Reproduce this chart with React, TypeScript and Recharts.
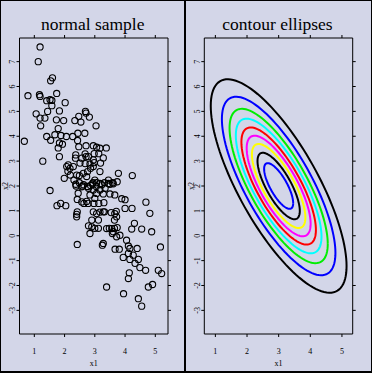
import React from 'react';
import { ScatterChart, Scatter, XAxis, YAxis } from 'recharts';

// ---- data ----
const sampleX = [
  1.19, 1.13, 1.60, 1.54, 1.74, 0.79, 1.17, 1.19, 1.41, 1.52, 1.58, 1.58, 2.02, 1.06, 1.19, 1.35, 1.44, 1.83, 1.73, 1.97,
  1.21, 2.69, 2.71, 2.47, 2.82, 2.54, 2.34, 3.04, 1.79, 1.41, 1.54, 1.68, 1.88, 2.06, 2.27, 2.44, 2.67, 2.43, 1.83, 1.93,
  1.79, 0.67, 2.47, 2.71, 2.95, 3.06, 3.17, 3.38, 1.83, 2.68, 2.71, 2.98, 3.13, 2.36, 2.51, 2.68, 2.84, 2.98, 3.19, 3.28,
  1.28, 2.07, 2.18, 2.11, 2.37, 2.76, 2.86, 2.95, 3.17, 3.78, 3.74, 4.24, 1.99, 2.19, 2.31, 2.49, 2.49, 2.94, 3.06, 3.17,
  3.32, 3.45, 3.59, 2.38, 2.60, 2.76, 2.86, 1.52, 1.75, 1.87, 2.04, 2.37, 2.63, 2.92, 3.05, 3.23, 3.50, 3.61, 2.84, 3.06,
  3.28, 3.50, 3.66, 2.42, 2.64, 2.78, 2.97, 3.13, 3.30, 3.89, 4.00, 2.42, 2.40, 2.95, 3.06, 3.17, 3.32, 3.54, 3.66, 3.71,
  4.00, 4.23, 4.69, 4.82, 2.40, 2.90, 3.12, 2.79, 2.90, 3.00, 3.12, 3.65, 3.72, 3.48, 3.65, 3.74, 4.31, 4.22, 4.55, 4.88,
  2.84, 3.58, 3.72, 3.83, 2.42, 3.25, 3.67, 3.81, 4.05, 4.11, 4.16, 4.40, 3.94, 4.11, 4.27, 4.16, 4.44, 4.33, 4.49, 4.68,
  4.14, 4.11, 5.10, 5.21, 5.17, 4.77, 4.91, 3.39, 3.95, 4.44, 4.55, 2.57, 2.79, 2.95, 2.12, 2.29, 2.73, 3.00, 3.45, 2.57,
  2.79, 2.95, 3.17, 3.34, 2.45, 3.00, 2.57, 2.73, 3.28, 3.61, 3.39, 3.28, 3.56, 2.62, 2.40,
];
const sampleY = [
  7.59, 7.00, 6.35, 6.23, 5.72, 5.63, 5.67, 5.60, 5.43, 5.47, 5.44, 5.23, 5.35, 4.90, 4.73, 4.73, 5.00, 5.02, 4.66, 4.63,
  4.42, 5.00, 4.93, 4.80, 4.77, 4.57, 4.63, 4.42, 4.31, 3.99, 3.84, 4.06, 4.03, 3.99, 3.99, 4.12, 4.12, 3.83, 3.73, 3.68,
  3.53, 3.80, 3.58, 3.62, 3.62, 3.56, 3.52, 3.53, 3.18, 3.29, 3.18, 3.30, 3.30, 3.12, 2.92, 2.90, 2.88, 2.94, 2.92, 3.13,
  3.00, 2.78, 2.71, 2.59, 3.25, 2.58, 2.71, 2.78, 2.58, 2.51, 2.17, 2.42, 2.31, 2.44, 2.24, 2.42, 2.13, 2.13, 2.13, 2.10,
  2.13, 2.10, 2.13, 2.00, 2.00, 1.98, 2.02, 1.82, 1.21, 1.30, 1.21, 2.07, 2.05, 2.08, 1.98, 2.05, 2.07, 2.09, 1.64, 1.70,
  1.68, 1.68, 1.64, 1.46, 1.30, 1.30, 1.30, 1.30, 1.33, 1.49, 1.45, 0.96, 0.86, 0.96, 0.89, 0.95, 0.96, 0.93, 0.89, 0.98,
  1.10, 1.10, 1.35, 0.90, 0.76, 0.63, 0.63, 0.40, 0.36, 0.30, 0.30, 0.63, 0.76, 0.30, 0.30, 0.33, 0.50, 0.27, 0.27, 0.16,
  0.09, 0.09, -0.04, 0.02, -0.35, -0.38, -0.54, -0.54, -0.18, -0.41, -0.51, -0.51, -0.87, -0.71, -0.78, -0.95, -0.95, -1.11, -1.28, -1.39,
  -1.49, -1.72, -1.39, -1.52, -0.45, -2.06, -1.96, -2.06, -2.33, -2.53, -2.83, 3.12, 3.18, 3.05, 2.85, 2.78, 2.38, 2.24, 2.24, 1.97,
  1.91, 1.84, 1.84, 1.91, 1.71, 1.50, 1.36, 1.38, 0.96, 0.16, 0.29, -0.31, 0.29, 2.51, 2.44,
];

const xTicks = [1, 2, 3, 4, 5];
const yTicks = [-3, -2, -1, 0, 1, 2, 3, 4, 5, 6, 7];

// contour ellipses of the bivariate normal: mean, sd, correlation, probability levels
const contourMean = [3, 2];
const contourSd = [1, 2];
const contourRho = -0.75;
const contourLevels = [0.9, 0.8, 0.7, 0.6, 0.5, 0.4, 0.3, 0.2, 0.1];
const contourColors = ['#000000', '#0000ff', '#00ee00', '#00ffff', '#ff0000', '#ff00ff', '#ffff00', '#000000', '#0000ff'];

const samplePoints = sampleX.map((x, i) => ({ x, y: sampleY[i] }));

function ellipsePoints(p: number) {
  const s = Math.sqrt(-2 * Math.log(1 - p));
  const k = Math.sqrt(1 - contourRho * contourRho);
  const pts: { x: number; y: number }[] = [];
  for (let d = 0; d <= 360; d += 3) {
    const t = (d * Math.PI) / 180;
    const c = Math.cos(t);
    const sn = Math.sin(t);
    pts.push({
      x: contourMean[0] + s * contourSd[0] * c,
      y: contourMean[1] + s * contourSd[1] * (contourRho * c + k * sn),
    });
  }
  return pts;
}

const BG = '#d3d6e8';
const FONT = '"Liberation Serif", "Times New Roman", serif';
const W = 186;
const H = 373;

const EmptyTick = () => <g />;

const RotTick = (props: any) => {
  const { x, y, payload } = props;
  const cx = x - 2;
  return (
    <text
      x={cx}
      y={y}
      transform={`rotate(-90 ${cx} ${y})`}
      textAnchor="middle"
      dominantBaseline="central"
      fontSize={8}
      fontFamily={FONT}
      fill="#000"
    >
      {payload.value}
    </text>
  );
};

type PanelProps = {
  title: string;
  left: number;
  plotLeft: number;
  plotRight: number;
  xDomain: [number, number];
  children: React.ReactNode;
};

function Panel({ title, left, plotLeft, plotRight, xDomain, children }: PanelProps) {
  const cx = (plotLeft + (W - plotRight)) / 2;
  return (
    <div style={{ position: 'absolute', left, top: 0, width: W, height: H }}>
      <ScatterChart width={W} height={H} margin={{ top: 0, right: 0, bottom: 0, left: 0 }}>
        <XAxis
          xAxisId="b"
          type="number"
          dataKey="x"
          orientation="bottom"
          domain={xDomain}
          ticks={xTicks}
          allowDataOverflow
          height={39}
          tickSize={3}
          tickMargin={11}
          stroke="#000"
          tick={{ fontSize: 8, fill: '#000', fontFamily: FONT }}
          label={() => (
            <text x={cx} y={366} textAnchor="middle" fontSize={8} fontFamily={FONT} fill="#000">
              x1
            </text>
          )}
        />
        <XAxis
          xAxisId="t"
          type="number"
          dataKey="x"
          orientation="top"
          domain={xDomain}
          ticks={xTicks}
          allowDataOverflow
          height={38}
          tickSize={3}
          stroke="#000"
          tick={EmptyTick}
          label={() => (
            <text x={cx - 1} y={29.5} textAnchor="middle" fontSize={17.5} fontFamily={FONT} fill="#000">
              {title}
            </text>
          )}
        />
        <YAxis
          yAxisId="l"
          type="number"
          dataKey="y"
          orientation="left"
          domain={[-3.95, 7.95]}
          ticks={yTicks}
          allowDataOverflow
          width={plotLeft}
          tickSize={3}
          tickMargin={2}
          stroke="#000"
          tick={RotTick}
          label={() => (
            <text
              x={5}
              y={186}
              transform="rotate(-90 5 186)"
              textAnchor="middle"
              dominantBaseline="central"
              fontSize={8}
              fontFamily={FONT}
              fill="#000"
            >
              x2
            </text>
          )}
        />
        <YAxis
          yAxisId="r"
          type="number"
          dataKey="y"
          orientation="right"
          domain={[-3.95, 7.95]}
          ticks={yTicks}
          allowDataOverflow
          width={plotRight}
          tickSize={3}
          stroke="#000"
          tick={EmptyTick}
        />
        <Scatter xAxisId="t" yAxisId="r" data={[]} isAnimationActive={false} shape={EmptyTick} />
        {children}
      </ScatterChart>
    </div>
  );
}

export default function App() {
  return (
    <div
      style={{
        position: 'fixed',
        left: 0,
        top: 0,
        width: 372,
        height: 373,
        background: BG,
        overflow: 'hidden',
      }}
    >
      <Panel title="normal sample" left={0} plotLeft={19.5} plotRight={18} xDomain={[0.51, 5.42]}>
        <Scatter
          xAxisId="b"
          yAxisId="l"
          data={samplePoints}
          isAnimationActive={false}
          shape={(p: any) => <circle cx={p.cx} cy={p.cy} r={3.1} fill="none" stroke="#000" strokeWidth={1.1} />}
        />
      </Panel>
      <Panel title="contour ellipses" left={186} plotLeft={18.3} plotRight={19.3} xDomain={[0.65, 5.34]}>
        {contourLevels.map((p, i) => (
          <Scatter
            key={i}
            xAxisId="b"
            yAxisId="l"
            data={ellipsePoints(p)}
            isAnimationActive={false}
            line={{ stroke: contourColors[i], strokeWidth: 2 }}
            lineType="joint"
            shape={EmptyTick}
          />
        ))}
      </Panel>
      <div
        style={{
          position: 'absolute',
          left: 184,
          top: 0,
          width: 2,
          height: 373,
          background: '#000',
        }}
      />
      <div
        style={{
          position: 'absolute',
          left: 0,
          top: 0,
          width: 372,
          height: 373,
          boxSizing: 'border-box',
          border: '1px solid #000',
          borderBottomWidth: 2,
          pointerEvents: 'none',
        }}
      />
    </div>
  );
}
